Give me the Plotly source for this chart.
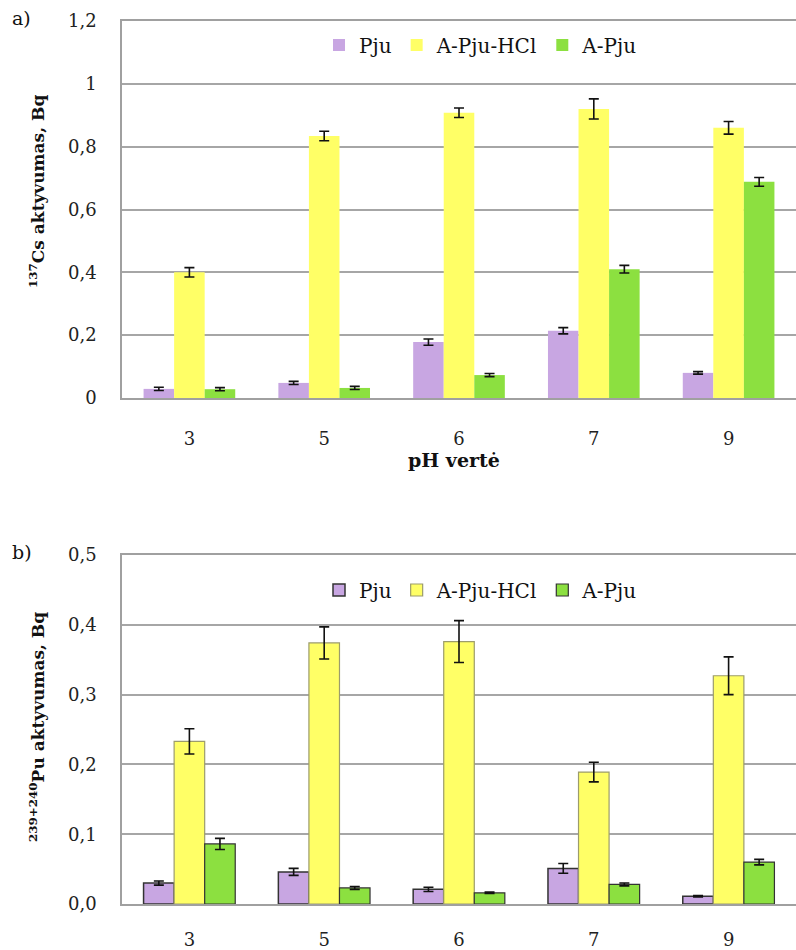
import plotly.graph_objects as go

categories = ["3", "5", "6", "7", "9"]
series_names = ["Pju", "A-Pju-HCl", "A-Pju"]

# a) 137Cs
cs_pju = [0.029, 0.048, 0.178, 0.214, 0.080]
cs_pju_err = [0.005, 0.005, 0.010, 0.010, 0.004]
cs_hcl = [0.400, 0.834, 0.908, 0.920, 0.860]
cs_hcl_err = [0.015, 0.015, 0.015, 0.032, 0.020]
cs_apju = [0.028, 0.032, 0.073, 0.410, 0.688]
cs_apju_err = [0.005, 0.005, 0.005, 0.012, 0.014]

# b) 239+240Pu
pu_pju = [0.030, 0.046, 0.021, 0.051, 0.011]
pu_pju_err = [0.003, 0.005, 0.003, 0.007, 0.001]
pu_hcl = [0.233, 0.374, 0.376, 0.189, 0.327]
pu_hcl_err = [0.018, 0.023, 0.030, 0.014, 0.027]
pu_apju = [0.086, 0.023, 0.016, 0.028, 0.060]
pu_apju_err = [0.008, 0.002, 0.001, 0.002, 0.004]

colors = ["#C8A6E2", "#FFFF66", "#8CE040"]
outline_b = ["#333333", "#9C9C6C", "#333333"]
FONT = "DejaVu Serif"
W, H = 796, 950

def py(px):
    return 1 - px / H

def pxx(px):
    return px / W

fig = go.Figure()

top_data = [(cs_pju, cs_pju_err), (cs_hcl, cs_hcl_err), (cs_apju, cs_apju_err)]
bot_data = [(pu_pju, pu_pju_err), (pu_hcl, pu_hcl_err), (pu_apju, pu_apju_err)]

for i, (vals, errs) in enumerate(top_data):
    fig.add_trace(go.Bar(
        x=categories, y=vals, name=series_names[i],
        marker=dict(color=colors[i], line=dict(width=0)),
        error_y=dict(type="data", array=errs, color="#111111", thickness=1.6, width=5),
        xaxis="x", yaxis="y", legend="legend",
    ))

for i, (vals, errs) in enumerate(bot_data):
    fig.add_trace(go.Bar(
        x=categories, y=vals, name=series_names[i],
        marker=dict(color=colors[i], line=dict(width=1.5 if i == 0 else 1.2, color=outline_b[i])),
        error_y=dict(type="data", array=errs, color="#111111", thickness=1.6, width=5),
        xaxis="x2", yaxis="y2", legend="legend2",
    ))

axis_common = dict(showline=True, mirror=True, linecolor="#A0A0A0", linewidth=1.5,
                   automargin=False,
                   tickfont=dict(family=FONT, size=18, color="#222222"))

fig.update_layout(
    width=W, height=H,
    margin=dict(l=0, r=0, t=0, b=0),
    paper_bgcolor="white", plot_bgcolor="white",
    separators=", ",
    barmode="group", bargap=0.32, bargroupgap=0,
    xaxis=dict(domain=[pxx(122), 1.0], anchor="y", type="category",
               ticks="", ticklabelstandoff=24, showgrid=False, **axis_common),
    yaxis=dict(domain=[py(398), py(21)], anchor="x", range=[0, 1.2], dtick=0.2,
               showgrid=True, gridcolor="#A6A6A6", gridwidth=1.5, ticks="",
               ticklabelstandoff=20, zeroline=False, **axis_common),
    xaxis2=dict(domain=[pxx(122), 1.0], anchor="y2", type="category",
                ticks="", ticklabelstandoff=19, showgrid=False, **axis_common),
    yaxis2=dict(domain=[py(904), py(555)], anchor="x2", range=[0, 0.5], dtick=0.1,
                tickformat=".1f", showgrid=True, gridcolor="#A6A6A6", gridwidth=1.5,
                ticks="", ticklabelstandoff=20, zeroline=False, **axis_common),
    legend=dict(orientation="h", x=pxx(481), xanchor="center", y=py(45), yanchor="middle",
                font=dict(family=FONT, size=20, color="#111111"), bgcolor="rgba(0,0,0,0)",
                itemwidth=30, traceorder="normal"),
    legend2=dict(orientation="h", x=pxx(481), xanchor="center", y=py(590), yanchor="middle",
                 font=dict(family=FONT, size=20, color="#111111"), bgcolor="rgba(0,0,0,0)",
                 itemwidth=30, traceorder="normal"),
    annotations=[
        dict(text="a)", x=pxx(10), y=py(18), xref="paper", yref="paper", xanchor="left",
             yanchor="middle", showarrow=False, font=dict(family=FONT, size=19, color="#111111")),
        dict(text="b)", x=pxx(10), y=py(552), xref="paper", yref="paper", xanchor="left",
             yanchor="middle", showarrow=False, font=dict(family=FONT, size=19, color="#111111")),
        dict(text="<b><sup>137</sup>Cs aktyvumas, Bq</b>", x=pxx(37), y=py(192), xref="paper",
             yref="paper", xanchor="center", yanchor="middle", textangle=-90, showarrow=False,
             font=dict(family=FONT, size=17, color="#111111")),
        dict(text="<b><sup>239+240</sup>Pu aktyvumas, Bq</b>", x=pxx(37), y=py(727), xref="paper",
             yref="paper", xanchor="center", yanchor="middle", textangle=-90, showarrow=False,
             font=dict(family=FONT, size=17, color="#111111")),
        dict(text="<b>pH vertė</b>", x=pxx(454), y=py(460), xref="paper", yref="paper",
             xanchor="center", yanchor="middle", showarrow=False,
             font=dict(family=FONT, size=19, color="#111111")),
    ],
)

fig.write_html("out.html")
